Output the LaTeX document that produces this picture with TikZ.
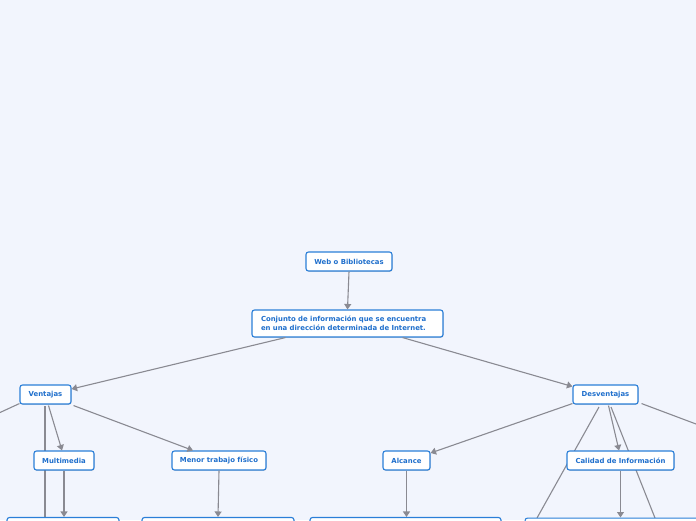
\documentclass[tikz,border=0pt]{standalone}
\usepackage{fontspec}
\setmainfont{DejaVu Sans}
\usetikzlibrary{arrows.meta,shadows}
\definecolor{bg}{HTML}{F2F5FD}
\definecolor{bord}{HTML}{2B7FD8}
\definecolor{txt}{HTML}{1F6FCC}
\definecolor{ln}{HTML}{8A8A92}
\tikzset{
  topic/.style={draw=bord, line width=1.1pt, fill=white, rounded corners=2.5pt,
    font=\fontsize{6.9}{8.6}\selectfont\bfseries, text=txt, inner sep=0pt,
    drop shadow={shadow xshift=0.6pt, shadow yshift=-0.8pt, fill=black, opacity=0.15}},
  conn/.style={draw=ln, line width=1.1pt},
  arr/.style={conn, -{Triangle[width=7pt,length=5.5pt]}}
}
\begin{document}
\begin{tikzpicture}[x=1pt,y=-1pt]
\useasboundingbox (0,0) rectangle (696,520);
\fill[bg] (0,0) rectangle (696,520);
\begin{scope}
\clip (0,0) rectangle (696,520);
% coordinates for free ends
\coordinate (vl) at (0,412.5);
\coordinate (dr) at (696,424);
% connectors drawn first (behind boxes)
\draw[conn] (45,406) -- (45,518);
\draw[conn] (599,407) -- (537,518);
\draw[conn] (611,407) -- (655,518);
% nodes
\node[topic, minimum width=86pt, minimum height=19pt] (web) at (349,261.5) {Web o Bibliotecas};
\node[topic, minimum width=191pt, minimum height=27pt, align=left, text width=173pt] (conj) at (347.5,323.5) {Conjunto de información que se encuentra\\en una dirección determinada de Internet.};
\node[topic, minimum width=51pt, minimum height=19pt] (ven) at (45.5,394.5) {Ventajas};
\node[topic, minimum width=65pt, minimum height=19pt] (des) at (605.5,394.5) {Desventajas};
\node[topic, minimum width=60pt, minimum height=19pt] (mul) at (64,460.5) {Multimedia};
\node[topic, minimum width=94pt, minimum height=19pt] (men) at (219,460.5) {Menor trabajo físico};
\node[topic, minimum width=47pt, minimum height=19pt] (alc) at (406.5,460.5) {Alcance};
\node[topic, minimum width=107pt, minimum height=19pt] (cal) at (620.5,460.5) {Calidad de Información};
\node[topic, minimum width=112pt, minimum height=20pt] (b1) at (63,527.5) {};
\node[topic, minimum width=152pt, minimum height=20pt] (b2) at (218,527.5) {};
\node[topic, minimum width=191pt, minimum height=20pt] (b3) at (405.5,527.5) {};
\node[topic, minimum width=200pt, minimum height=20pt, anchor=north west] (b4) at (524.5,517.5) {};
% arrows
\draw[arr] (web.south) -- (conj.north);
\draw[arr] ([xshift=-62pt]conj.south) -- ([yshift=5.5pt]ven.east);
\draw[arr] ([xshift=55pt]conj.south) -- ([yshift=8pt]des.west);
\draw[conn] ([yshift=1pt]ven.south west) -- (vl);
\draw[arr] ([xshift=3pt,yshift=-1pt]ven.south) -- ([xshift=-2pt]mul.north);
\draw[arr] ([xshift=2pt,yshift=-1pt]ven.south east) -- ([xshift=-26pt]men.north);
\draw[arr] (mul.south) -- (b1.north -| mul.south);
\draw[arr] (men.south) -- ([xshift=-1pt]b2.north -| men.south);
\draw[arr] ([yshift=1pt]des.south west) -- ([yshift=7.5pt]alc.east);
\draw[conn] ([xshift=3pt,yshift=1pt]des.south east) -- (dr);
\draw[arr] ([xshift=3pt,yshift=-1pt]des.south) -- ([xshift=-1.5pt]cal.north);
\draw[arr] (alc.south) -- (b3.north -| alc.south);
\draw[arr] (cal.south) -- (b4.north -| cal.south);
\end{scope}
\end{tikzpicture}
\end{document}
